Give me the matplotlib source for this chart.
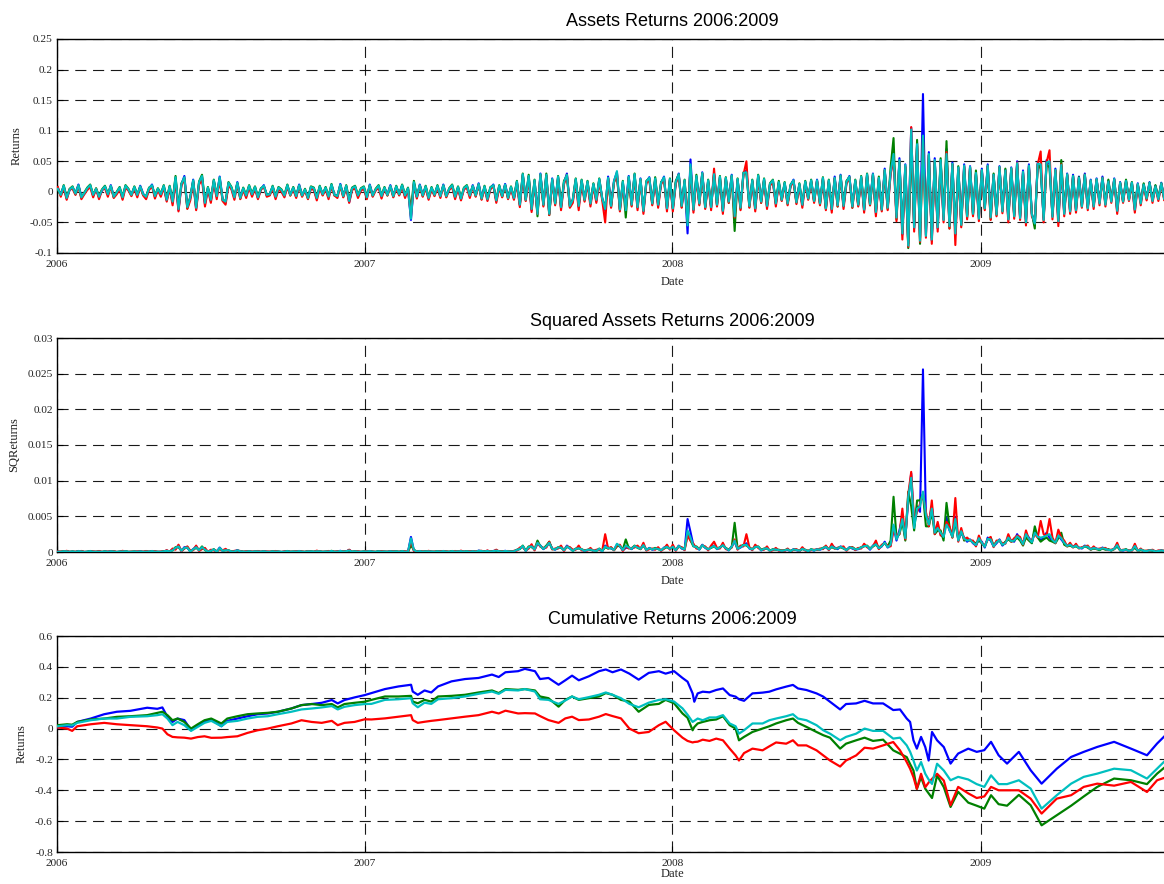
import numpy as np
import pandas as pd
import matplotlib
matplotlib.use("Agg")
import matplotlib.pyplot as plt
import matplotlib.dates as mdates
from matplotlib.ticker import FixedLocator, FixedFormatter

# ---------------- data: half-weekly returns, in units of 0.001 (2006-01-02 .. 2009-08-10) ----------------
RET_UNIT = 0.001
ret_start = "2006-01-02"
ret_end = "2009-08-10"

ret_blue = [
    # 2006
    6, -4, 9, -11, 3, 7, -2, 12, -8, -3, 5, 10, -6,
    4, -9, 2, 8, -5, 11, -7, -2, 6, -10, 9, 3, -4,
    7, -6, 10, -3, -9, 5, 12, -8, 4, -5, 9, -14, 8,
    -18, 22, -30, 12, 26, -24, -10, 20, -28, 15, 24, -20, 6,
    -15, 18, -8, 25, -12, -18, 14, 6, -10, 16, -9, 5, -7,
    9, -5, 7, -10, 4, 11, -6, -3, 8, -9, 6, 2, -7,
    10, -4, 6, -8, 12, -5, 3, -9, 7, 5, -11, 8, -3,
    6, -9, 11, -4, -8, 13, -6, 9, -17, 5, 8, -7, 4,
    # 2007
    7, -10, 12, -5, 3, 9, -8, 6, -4, 11, -6, 8, -3,
    10, -7, 5, -46, 14, -9, 12, -5, 8, -11, 6, -4, 9,
    -8, 12, -6, 4, 10, -9, 7, -12, 5, 9, -7, 11, -5,
    14, -10, 8, -13, 6, 12, -15, 9, -6, 13, -9, 7, -11,
    16, -22, 28, -12, 25, -30, 18, -34, 30, -20, 27, -36, 22,
    -18, 24, -26, 15, 30, -22, -14, 20, -25, 18, -12, 16, -20,
    12, -15, 20, -10, -30, 25, -22, 18, 32, -28, 15, -24, 26,
    -20, 28, -26, 22, -32, 16, 24, -18, 20, -22, 14, 25, -28,
    # 2008
    20, -28, 15, 30, -22, 18, -68, 53, -30, 25, -18, 32, -24,
    18, -26, 30, -20, 24, -32, 22, -15, 28, -38, 20, -25, 30,
    35, -22, 18, -28, 26, -15, 20, -24, 12, 18, -20, 15, -12,
    14, -18, 10, 20, -16, 12, -22, 16, -10, 18, -14, 20, -18,
    22, -26, 18, -30, 25, -20, 28, -24, 15, 26, -22, 18, -20,
    24, -30, 28, -18, 30, -35, 22, -28, 38, -25, 30, 60, -40,
    55, -70, 45, -85, 105, -60, 80, -75, 160, -70, 65, -80, 55,
    -60, 50, -45, 70, -55, 48, -70, 40, -52, 45, -38, 42, -35,
    # 2009
    30, -42, 38, -25, 45, -40, 28, -35, 42, -30, 36,
    -45, 40, -38, 50, -42, 35, -50, 45, -36, -55, 48,
    40, -45, 52, 45, -40, 38, -48, 42, -35, 30, -32,
    28, -30, 25, -22, 30, -26, 20, -24, 22, -18, 25,
    -20, 18, -15, 22, -32, 16, -14, 18, -12, 15, -30,
    14, -18, 12, -10, 16, -14, 10, -12, 15, -11, 12,
]

ret_green = [
    # 2006
    4, -6, 11, -9, 5, 9, -4, 10, -10, -1, 7, 12, -5,
    6, -7, 4, 10, -3, 9, -9, 0, 8, -8, 11, 5, -6,
    9, -4, 8, -5, -7, 7, 10, -6, 6, -3, 11, -12, 10,
    -15, 26, -26, 14, 22, -27, -8, 18, -24, 17, 28, -16, 8,
    -12, 20, -6, 22, -14, -15, 16, 8, -8, 14, -11, 7, -5,
    11, -3, 9, -8, 6, 9, -4, -5, 10, -7, 8, 4, -5,
    12, -6, 8, -6, 10, -7, 5, -11, 9, 7, -9, 10, -5,
    8, -7, 13, -6, -6, 11, -8, 11, -13, 7, 10, -5, 6,
    # 2007
    9, -8, 10, -7, 5, 11, -6, 8, -6, 9, -8, 10, -5,
    12, -5, 7, -30, 18, -7, 10, -7, 10, -9, 8, -6, 11,
    -6, 10, -8, 6, 12, -7, 9, -10, 7, 11, -5, 9, -7,
    12, -12, 10, -11, 8, 10, -13, 11, -8, 11, -11, 9, -9,
    18, -20, 30, -14, 28, -26, 20, -40, 28, -22, 30, -38, 20,
    -20, 26, -24, 18, 26, -25, -12, 22, -22, 20, -14, 18, -18,
    14, -12, 22, -12, -26, 22, -25, 16, 28, -30, 18, -42, 24,
    -22, 30, -24, 20, -30, 18, 22, -20, 24, -20, 16, 22, -26,
    # 2008
    22, -26, 18, 28, -25, 20, -50, 40, -28, 28, -20, 30, -26,
    20, -24, 28, -22, 26, -30, 24, -18, 26, -64, 22, -28, 32,
    30, -25, 20, -26, 28, -18, 22, -22, 14, 20, -18, 18, -14,
    16, -20, 12, 18, -18, 14, -20, 18, -12, 20, -16, 18, -20,
    24, -28, 20, -26, 22, -24, 26, -22, 18, 24, -26, 20, -22,
    26, -28, 30, -22, 28, -32, 25, -30, 35, -28, 40, 88, -45,
    50, -65, 40, -92, 80, -55, 85, -85, 90, -60, 60, -75, 50,
    -55, 55, -40, 83, -60, 45, -65, 42, -55, 40, -42, 40, -38,
    # 2009
    35, -40, 35, -28, 42, -45, 30, -38, 40, -32, 38,
    -42, 38, -40, 45, -40, 30, -45, 40, -35, -60, 45,
    38, -42, 45, 40, -38, 35, -44, 52, -32, 28, -30,
    26, -28, 24, -24, 28, -25, 18, -22, 20, -16, 22,
    -18, 20, -14, 20, -28, 15, -16, 20, -12, 16, -24,
    12, -16, 14, -12, 15, -13, 11, -10, 14, -12, 11,
]

ret_red = [
    # 2006
    8, -8, 7, -13, 4, 5, -5, 10, -12, -4, 3, 8, -9,
    5, -12, 3, 6, -8, 9, -10, -4, 4, -13, 7, 2, -7,
    5, -9, 8, -6, -12, 3, 9, -11, 3, -8, 7, -16, 6,
    -22, 18, -32, 10, 22, -28, -14, 16, -30, 12, 20, -24, 4,
    -18, 15, -12, 20, -15, -21, 11, 4, -13, 13, -12, 3, -10,
    7, -8, 5, -12, 3, 9, -8, -6, 6, -12, 4, 0, -9,
    8, -6, 4, -10, 10, -8, 2, -12, 5, 3, -14, 6, -6,
    4, -12, 9, -6, -10, 10, -9, 7, -18, 3, 6, -10, 2,
    # 2007
    5, -12, 10, -8, 2, 7, -11, 5, -6, 9, -9, 6, -6,
    8, -10, 4, -40, 12, -11, 10, -8, 6, -13, 4, -7, 7,
    -10, 10, -9, 3, 8, -12, 5, -14, 4, 7, -10, 9, -8,
    12, -13, 6, -15, 4, 10, -18, 7, -9, 11, -12, 5, -13,
    14, -25, 26, -15, 22, -33, 15, -36, 27, -24, 25, -38, 19,
    -22, 22, -30, 12, 28, -26, -18, 18, -30, 15, -16, 14, -24,
    10, -18, 18, -14, -50, 22, -26, 15, 30, -32, 12, -28, 22,
    -24, 25, -30, 20, -36, 14, 20, -22, 18, -26, 12, 22, -32,
    # 2008
    18, -32, 13, 28, -26, 16, -48, 40, -34, 22, -22, 30, -28,
    15, -30, 38, -24, 22, -36, 20, -18, 25, -42, 18, -30, 28,
    50, -26, 16, -32, 24, -18, 18, -28, 10, 16, -24, 13, -15,
    12, -22, 8, 18, -20, 10, -26, 14, -13, 16, -18, 18, -22,
    20, -30, 16, -34, 22, -24, 26, -28, 13, 24, -26, 16, -24,
    22, -34, 26, -22, 28, -40, 20, -32, 35, -30, 28, 55, -48,
    50, -78, 42, -90, 106, -65, 75, -82, 90, -75, 60, -85, 50,
    -65, 48, -50, 65, -60, 45, -87, 38, -58, 42, -45, 40, -40,
    # 2009
    28, -48, 35, -30, 42, -46, 26, -40, 40, -35, 34,
    -50, 38, -44, 48, -46, 32, -55, 42, -40, -50, 45,
    66, -50, 48, 68, -45, 35, -56, 45, -40, 28, -36,
    25, -34, 22, -26, 28, -30, 18, -28, 20, -22, 23,
    -24, 16, -18, 20, -36, 14, -18, 16, -15, 13, -34,
    12, -22, 10, -14, 14, -18, 8, -15, 13, -14, 10,
]

ret_cyan = [
    # 2006
    5, -5, 10, -10, 4, 8, -3, 11, -9, -2, 6, 11, -5,
    5, -8, 3, 9, -4, 10, -8, -1, 7, -9, 10, 4, -5,
    8, -5, 9, -4, -8, 6, 11, -7, 5, -4, 10, -13, 9,
    -16, 24, -28, 13, 24, -25, -9, 19, -26, 16, 26, -18, 7,
    -13, 19, -7, 24, -13, -16, 15, 7, -9, 15, -10, 6, -6,
    10, -4, 8, -9, 5, 10, -5, -4, 9, -8, 7, 3, -6,
    11, -5, 7, -7, 11, -6, 4, -10, 8, 6, -10, 9, -4,
    7, -8, 12, -5, -7, 12, -7, 10, -15, 6, 9, -6, 5,
    # 2007
    8, -9, 11, -6, 4, 10, -7, 7, -5, 10, -7, 9, -4,
    11, -6, 6, -44, 16, -8, 11, -6, 9, -10, 7, -5, 10,
    -7, 11, -7, 5, 11, -8, 8, -11, 6, 10, -6, 10, -6,
    13, -11, 9, -12, 7, 11, -14, 10, -7, 12, -10, 8, -10,
    17, -21, 29, -13, 26, -28, 19, -36, 29, -21, 28, -36, 21,
    -19, 25, -25, 16, 28, -23, -13, 21, -23, 19, -13, 17, -19,
    13, -13, 21, -11, -28, 23, -23, 17, 34, -29, 17, -30, 25,
    -21, 29, -25, 21, -31, 17, 23, -19, 22, -21, 15, 24, -27,
    # 2008
    21, -27, 16, 29, -23, 19, -55, 45, -29, 26, -19, 31, -25,
    19, -25, 29, -21, 25, -31, 23, -16, 27, -40, 21, -26, 31,
    32, -23, 19, -27, 27, -16, 21, -23, 13, 19, -19, 16, -13,
    15, -19, 11, 19, -17, 13, -21, 17, -11, 19, -15, 19, -19,
    23, -27, 19, -28, 23, -22, 27, -23, 16, 25, -24, 19, -21,
    25, -29, 29, -20, 29, -33, 23, -29, 36, -26, 32, 62, -42,
    52, -68, 44, -88, 102, -58, 78, -80, 92, -72, 62, -78, 52,
    -58, 52, -46, 62, -56, 46, -68, 40, -54, 43, -40, 41, -36,
    # 2009
    31, -44, 36, -27, 43, -42, 28, -37, 41, -32, 35,
    -45, 39, -40, 47, -43, 33, -50, 43, -37, -52, 46,
    45, -46, 48, 50, -41, 36, -48, 44, -36, 29, -32,
    26, -30, 23, -24, 28, -27, 19, -24, 21, -19, 23,
    -21, 17, -16, 21, -31, 15, -16, 18, -13, 15, -29,
    13, -19, 12, -11, 15, -15, 9, -12, 14, -12, 11,
]

# ---------------- data: cumulative returns (x = days since 2006-01-01) ----------------
cum_origin = "2006-01-01"
cum_day = [
    1, 12, 18, 24, 40, 56, 71, 87, 107, 119, 125, 131, 137, 143, 151, 159, 167, 175, 183, 195,
    202, 214, 226, 238, 250, 262, 278, 290, 302, 314, 326, 333, 341, 353, 365,
    373, 389, 405, 420, 422, 428, 436, 444, 452, 468, 484, 500, 516, 524, 532, 547, 555, 567,
    573, 583, 595, 603, 611, 619, 631, 643, 651, 659, 669, 679, 690, 702, 714, 722, 732, 742,
    748, 754, 756, 760, 766, 774, 782, 790, 798, 805, 809, 815, 825, 837, 845, 853, 865, 873,
    879, 889, 901, 909, 917, 929, 936, 948, 958, 968, 980, 992, 1000, 1008, 1012, 1016, 1020,
    1025, 1030, 1034, 1038, 1044, 1052,
    1060, 1069, 1081, 1091, 1100, 1108, 1117, 1127, 1141, 1155, 1168, 1186, 1203, 1218, 1234,
    1254, 1274, 1293, 1305, 1317,
]
cum_blue = [
    0.007, 0.015, 0.012, 0.043, 0.065, 0.093, 0.109, 0.115, 0.135, 0.128, 0.137, 0.076, 0.043, 0.065, 0.055, -0.011, 0.022, 0.043, 0.059, 0.015,
    0.050, 0.065, 0.080, 0.093, 0.098, 0.109, 0.130, 0.152, 0.159, 0.167, 0.185, 0.163, 0.185, 0.202, 0.217,
    0.230, 0.256, 0.273, 0.284, 0.240, 0.219, 0.247, 0.234, 0.273, 0.306, 0.321, 0.328, 0.350, 0.334, 0.365, 0.372, 0.387, 0.372,
    0.321, 0.328, 0.284, 0.313, 0.343, 0.313, 0.339, 0.372, 0.383, 0.365, 0.383, 0.356, 0.317, 0.361, 0.372, 0.356, 0.372, 0.328,
    0.304, 0.228, 0.174, 0.228, 0.239, 0.235, 0.250, 0.260, 0.217, 0.207, 0.190, 0.180, 0.228, 0.233, 0.239, 0.254, 0.272, 0.283,
    0.260, 0.250, 0.228, 0.207, 0.174, 0.124, 0.159, 0.163, 0.180, 0.163, 0.163, 0.120, 0.124, 0.065, 0.043, -0.076, -0.130,
    -0.054, -0.120, -0.207, -0.022, -0.076, -0.120,
    -0.227, -0.162, -0.130, -0.151, -0.140, -0.086, -0.173, -0.227, -0.151, -0.270, -0.357, -0.260, -0.184, -0.151, -0.119,
    -0.086, -0.130, -0.173, -0.097, -0.032,
]
cum_green = [
    0.022, 0.028, 0.025, 0.043, 0.059, 0.065, 0.076, 0.080, 0.087, 0.102, 0.109, 0.087, 0.054, 0.065, 0.043, 0.000, 0.028, 0.054, 0.065, 0.033,
    0.065, 0.080, 0.093, 0.098, 0.102, 0.109, 0.130, 0.152, 0.159, 0.152, 0.159, 0.137, 0.159, 0.167, 0.174,
    0.186, 0.208, 0.208, 0.212, 0.175, 0.164, 0.186, 0.175, 0.208, 0.212, 0.219, 0.234, 0.247, 0.230, 0.256, 0.251, 0.256, 0.247,
    0.208, 0.197, 0.142, 0.186, 0.208, 0.186, 0.197, 0.208, 0.230, 0.219, 0.186, 0.175, 0.109, 0.153, 0.160, 0.186, 0.164, 0.098,
    0.070, -0.011, 0.010, 0.033, 0.043, 0.054, 0.059, 0.080, 0.022, 0.000, -0.076, -0.054, -0.022, 0.000, 0.015, 0.033, 0.054, 0.065,
    0.037, 0.011, -0.022, -0.043, -0.059, -0.130, -0.098, -0.076, -0.059, -0.080, -0.072, -0.141, -0.163, -0.185, -0.230, -0.272, -0.391,
    -0.315, -0.390, -0.420, -0.450, -0.304, -0.380,
    -0.508, -0.410, -0.480, -0.500, -0.519, -0.432, -0.490, -0.500, -0.430, -0.497, -0.627, -0.562, -0.500, -0.440, -0.378,
    -0.324, -0.335, -0.360, -0.292, -0.238,
]
cum_red = [
    0.007, 0.000, -0.015, 0.015, 0.028, 0.037, 0.028, 0.022, 0.015, 0.007, 0.000, -0.037, -0.054, -0.057, -0.059, -0.065, -0.055, -0.050, -0.060, -0.059,
    -0.055, -0.050, -0.028, -0.011, 0.000, 0.015, 0.033, 0.054, 0.043, 0.037, 0.050, 0.022, 0.037, 0.043, 0.060,
    0.059, 0.066, 0.077, 0.087, 0.055, 0.037, 0.044, 0.050, 0.055, 0.066, 0.077, 0.087, 0.109, 0.098, 0.116, 0.098, 0.100, 0.098,
    0.081, 0.055, 0.037, 0.066, 0.077, 0.055, 0.059, 0.077, 0.094, 0.081, 0.066, 0.000, -0.030, -0.022, 0.022, 0.044, -0.011, -0.059,
    -0.080, -0.090, -0.087, -0.085, -0.072, -0.080, -0.065, -0.076, -0.130, -0.174, -0.207, -0.159, -0.130, -0.141, -0.115, -0.090, -0.098, -0.076,
    -0.109, -0.109, -0.141, -0.174, -0.207, -0.246, -0.207, -0.174, -0.124, -0.130, -0.109, -0.087, -0.141, -0.217, -0.260, -0.315, -0.391,
    -0.293, -0.380, -0.350, -0.326, -0.293, -0.337,
    -0.497, -0.378, -0.420, -0.450, -0.440, -0.378, -0.400, -0.400, -0.400, -0.454, -0.551, -0.454, -0.432, -0.378, -0.357,
    -0.370, -0.346, -0.411, -0.335, -0.313,
]
cum_cyan = [
    0.015, 0.022, 0.020, 0.037, 0.054, 0.065, 0.065, 0.076, 0.080, 0.087, 0.093, 0.065, 0.022, 0.043, 0.022, -0.015, 0.011, 0.037, 0.050, 0.015,
    0.043, 0.050, 0.065, 0.076, 0.080, 0.093, 0.109, 0.124, 0.130, 0.137, 0.146, 0.124, 0.141, 0.152, 0.159,
    0.160, 0.186, 0.190, 0.197, 0.164, 0.138, 0.168, 0.160, 0.190, 0.197, 0.208, 0.225, 0.240, 0.225, 0.251, 0.247, 0.256, 0.240,
    0.190, 0.186, 0.160, 0.182, 0.208, 0.190, 0.204, 0.219, 0.234, 0.219, 0.197, 0.160, 0.138, 0.168, 0.186, 0.190, 0.175, 0.131,
    0.090, 0.043, 0.050, 0.065, 0.054, 0.072, 0.072, 0.087, 0.033, 0.015, -0.033, -0.011, 0.033, 0.033, 0.054, 0.065, 0.080, 0.093,
    0.065, 0.054, 0.022, -0.011, -0.033, -0.076, -0.054, -0.033, 0.000, -0.015, -0.015, -0.065, -0.059, -0.109, -0.150, -0.207, -0.272,
    -0.217, -0.293, -0.330, -0.359, -0.228, -0.272,
    -0.335, -0.313, -0.330, -0.360, -0.378, -0.303, -0.360, -0.360, -0.335, -0.389, -0.519, -0.432, -0.357, -0.313, -0.292,
    -0.260, -0.270, -0.324, -0.260, -0.195,
]

year_ticks = ["2006-01-01", "2007-01-01", "2008-01-01", "2009-01-01"]

# ---------------- styles ----------------
colors = {"blue": "#0000FF", "green": "#008000", "red": "#FF0000", "cyan": "#00BFBF"}
serif = ["Liberation Serif", "DejaVu Serif"]
sans = ["Liberation Sans", "DejaVu Sans"]
tick_color = "#222222"

fig = plt.figure(figsize=(11.64, 8.84), dpi=100)
W, H = 1164.0, 884.0
left_px = 57.0
right_px = 1288.6   # the original axes run past the cropped right edge of the picture


def make_ax(top_px, bottom_px):
    return fig.add_axes([left_px / W, 1 - bottom_px / H, (right_px - left_px) / W, (bottom_px - top_px) / H])


ax1 = make_ax(39, 253)
ax2 = make_ax(338, 552)
ax3 = make_ax(636, 852)

x_start = pd.Timestamp("2006-01-01")
x_end = pd.Timestamp("2010-01-01")
xt = mdates.date2num(pd.to_datetime(year_ticks))


def style(ax, yticks, ylabel, title, xlabelpad=5):
    ax.set_xlim(x_start, x_end)
    ax.set_ylim(yticks[0], yticks[-1])
    ax.yaxis.set_major_locator(FixedLocator(yticks))
    ax.yaxis.set_major_formatter(FixedFormatter([f"{v + 0.0:g}" for v in yticks]))
    ax.xaxis.set_major_locator(FixedLocator(xt))
    ax.xaxis.set_major_formatter(mdates.DateFormatter("%Y"))
    ax.grid(True, color="black", linewidth=0.8, linestyle=(0, (10, 6)), alpha=0.9)
    ax.set_axisbelow(True)
    for s in ["left", "bottom", "top", "right"]:
        ax.spines[s].set_linewidth(1.0)
    ax.tick_params(direction="in", length=4, width=0.8, labelsize=8.2, colors="black",
                   labelcolor=tick_color, pad=3)
    ax.tick_params(axis="x", pad=5)
    for lab in ax.get_xticklabels() + ax.get_yticklabels():
        lab.set_fontfamily(serif)
    ax.set_ylabel(ylabel, fontsize=9, family=serif, color=tick_color, labelpad=5)
    ax.set_xlabel("Date", fontsize=9, family=serif, color=tick_color, labelpad=xlabelpad)
    ax.set_title(title, fontsize=13, family=sans, pad=9)


for name, vals in [("blue", ret_blue), ("green", ret_green), ("red", ret_red), ("cyan", ret_cyan)]:
    v = np.asarray(vals, dtype=float) * RET_UNIT
    d = pd.date_range(ret_start, ret_end, periods=len(v))
    ax1.plot(d, v, color=colors[name], linewidth=1.5, zorder=3)
    ax2.plot(d, v ** 2, color=colors[name], linewidth=1.5, zorder=3)

cd = pd.Timestamp(cum_origin) + pd.to_timedelta(cum_day, unit="D")
for name, vals in [("blue", cum_blue), ("green", cum_green), ("red", cum_red), ("cyan", cum_cyan)]:
    ax3.plot(cd, vals, color=colors[name], linewidth=1.6, zorder=3)

style(ax1, list(np.round(np.arange(-0.1, 0.2501, 0.05), 4)), "Returns", "Assets Returns 2006:2009")
style(ax2, list(np.round(np.arange(0, 0.03001, 0.005), 4)), "SQReturns", "Squared Assets Returns 2006:2009")
style(ax3, list(np.round(np.arange(-0.8, 0.6001, 0.2), 4)), "Returns", "Cumulative Returns 2006:2009",
      xlabelpad=0)

fig.savefig("out.png", dpi=100)
